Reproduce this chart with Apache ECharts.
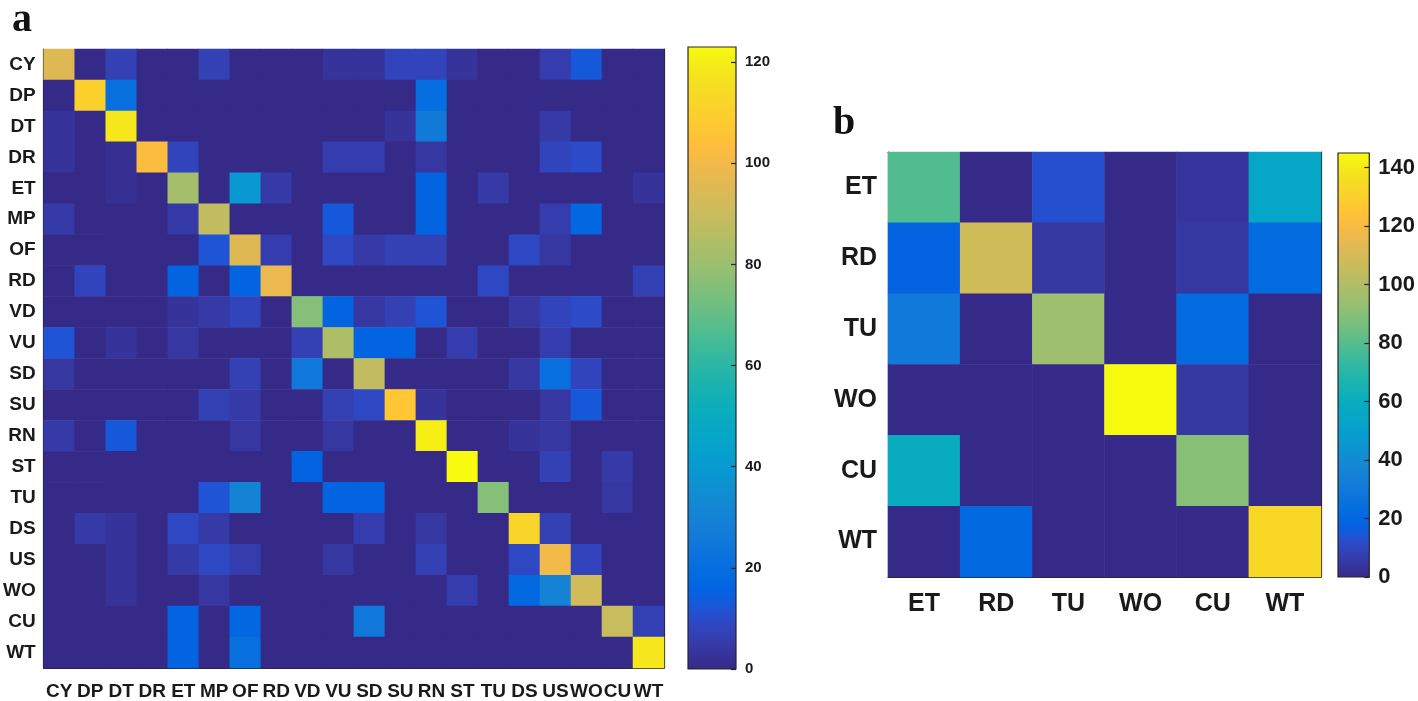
<!DOCTYPE html>
<html>
<head>
<meta charset="utf-8">
<title>Confusion matrices</title>
<script src="https://cdn.jsdelivr.net/npm/echarts@6/dist/echarts.min.js"></script>
<style>
  html, body { margin: 0; padding: 0; background: #fff; }
  #main { width: 1418px; height: 701px; }
</style>
</head>
<body>
<div id="main"></div>
<script>
// ---- data ----
const classesA = ['CY', 'DP', 'DT', 'DR', 'ET', 'MP', 'OF', 'RD', 'VD', 'VU',
                  'SD', 'SU', 'RN', 'ST', 'TU', 'DS', 'US', 'WO', 'CU', 'WT'];
// rows = true class, cols = predicted class (same order as classesA)
const countsA = [
  [95, 0, 7, 0, 0, 7, 0, 0, 0, 3,   3, 8, 8, 3, 0, 0, 6, 13, 0, 0],
  [0, 110, 21, 0, 0, 0, 0, 0, 0, 0, 0, 0, 20, 0, 0, 0, 0, 0, 0, 0],
  [3, 0, 118, 0, 0, 0, 0, 0, 0, 0,  0, 3, 26, 0, 0, 0, 5, 0, 0, 0],
  [3, 0, 2, 103, 8, 0, 0, 0, 0, 6,  6, 0, 4, 0, 0, 0, 8, 10, 0, 0],
  [0, 0, 2, 0, 82, 0, 39, 5, 0, 0,  0, 0, 16, 0, 5, 0, 0, 0, 0, 3],
  [5, 0, 0, 0, 5, 88, 0, 0, 0, 13,  0, 0, 16, 0, 0, 0, 6, 17, 0, 0],
  [0, 0, 0, 0, 0, 12, 95, 6, 0, 9,  5, 7, 7, 0, 0, 9, 4, 0, 0, 0],
  [0, 8, 0, 0, 16, 0, 16, 98, 0, 0, 0, 0, 0, 0, 9, 0, 0, 0, 0, 7],
  [0, 0, 0, 0, 3, 5, 8, 0, 76, 16,  4, 7, 12, 0, 0, 4, 8, 10, 0, 0],
  [12, 0, 3, 0, 4, 0, 0, 0, 7, 84,  16, 16, 0, 6, 0, 0, 6, 0, 0, 0],
  [4, 0, 0, 0, 0, 0, 7, 0, 25, 0,   88, 0, 0, 0, 0, 4, 21, 8, 0, 0],
  [0, 0, 0, 0, 0, 7, 5, 0, 0, 7,    9, 107, 3, 0, 0, 0, 4, 13, 0, 0],
  [5, 0, 13, 0, 0, 0, 4, 0, 0, 4,   0, 0, 120, 0, 0, 3, 4, 0, 0, 0],
  [0, 0, 0, 0, 0, 0, 0, 0, 16, 0,   0, 0, 0, 123, 0, 0, 7, 0, 5, 0],
  [0, 0, 0, 0, 0, 12, 30, 0, 0, 16, 16, 0, 0, 0, 76, 0, 0, 0, 4, 0],
  [0, 5, 3, 0, 9, 5, 0, 0, 0, 0,    6, 0, 4, 0, 0, 112, 7, 0, 0, 0],
  [0, 0, 3, 0, 5, 9, 6, 0, 0, 4,    0, 0, 7, 0, 0, 9, 100, 8, 0, 0],
  [0, 0, 3, 0, 0, 4, 0, 0, 0, 0,    0, 0, 0, 6, 0, 18, 30, 92, 0, 0],
  [0, 0, 0, 0, 16, 0, 17, 0, 0, 0,  25, 0, 0, 0, 0, 0, 0, 0, 90, 7],
  [0, 0, 0, 0, 16, 0, 21, 0, 0, 0,  0, 0, 0, 0, 0, 0, 0, 0, 0, 118]
];
const colorTicksA = [0, 20, 40, 60, 80, 100, 120];
const colorMaxA = 123;

const classesB = ['ET', 'RD', 'TU', 'WO', 'CU', 'WT'];
const countsB = [
  [79, 0, 13, 0, 4, 55],
  [18, 108, 5, 0, 5, 22],
  [30, 0, 95, 0, 22, 0],
  [0, 0, 0, 145, 5, 0],
  [59, 0, 0, 0, 90, 0],
  [0, 21, 0, 0, 0, 133]
];
const colorTicksB = [0, 20, 40, 60, 80, 100, 120, 140];
const colorMaxB = 145;

// MATLAB parula (64 steps)
const parulaRGB = [
  [0.2081,0.1663,0.5292],[0.2116,0.1898,0.5777],[0.2123,0.2138,0.6270],[0.2081,0.2386,0.6771],
  [0.1959,0.2645,0.7279],[0.1707,0.2919,0.7792],[0.1253,0.3242,0.8303],[0.0591,0.3598,0.8683],
  [0.0117,0.3875,0.8820],[0.0060,0.4086,0.8828],[0.0165,0.4266,0.8786],[0.0329,0.4430,0.8720],
  [0.0498,0.4586,0.8641],[0.0629,0.4737,0.8554],[0.0723,0.4887,0.8467],[0.0779,0.5040,0.8384],
  [0.0793,0.5200,0.8312],[0.0749,0.5375,0.8263],[0.0641,0.5570,0.8240],[0.0488,0.5772,0.8228],
  [0.0343,0.5966,0.8199],[0.0265,0.6137,0.8135],[0.0239,0.6287,0.8038],[0.0231,0.6418,0.7913],
  [0.0228,0.6535,0.7768],[0.0267,0.6642,0.7607],[0.0384,0.6743,0.7436],[0.0590,0.6838,0.7254],
  [0.0843,0.6928,0.7062],[0.1133,0.7015,0.6859],[0.1453,0.7098,0.6646],[0.1801,0.7177,0.6424],
  [0.2178,0.7250,0.6193],[0.2586,0.7317,0.5954],[0.3022,0.7376,0.5712],[0.3482,0.7424,0.5473],
  [0.3953,0.7459,0.5244],[0.4420,0.7481,0.5033],[0.4871,0.7491,0.4840],[0.5300,0.7491,0.4661],
  [0.5709,0.7485,0.4494],[0.6099,0.7473,0.4337],[0.6473,0.7456,0.4188],[0.6834,0.7435,0.4044],
  [0.7184,0.7411,0.3905],[0.7525,0.7384,0.3768],[0.7858,0.7356,0.3633],[0.8185,0.7327,0.3498],
  [0.8507,0.7299,0.3360],[0.8824,0.7274,0.3217],[0.9139,0.7258,0.3063],[0.9450,0.7261,0.2886],
  [0.9739,0.7314,0.2666],[0.9938,0.7455,0.2403],[0.9990,0.7653,0.2164],[0.9955,0.7861,0.1967],
  [0.9880,0.8066,0.1794],[0.9789,0.8271,0.1633],[0.9697,0.8481,0.1475],[0.9626,0.8705,0.1309],
  [0.9589,0.8949,0.1132],[0.9598,0.9218,0.0948],[0.9661,0.9514,0.0755],[0.9763,0.9831,0.0538]
];
const parula = parulaRGB.map(c => 'rgb(' + c.map(v => Math.round(v * 255)).join(',') + ')');

// ---- helpers ----
const ink = '#262626';
const font = 'Liberation Sans, Arial, sans-serif';

function toCells(counts) {
  const cells = [];
  counts.forEach((row, r) => row.forEach((v, c) => cells.push([c, r, v])));
  return cells;
}

const barGradient = {
  type: 'linear', x: 0, y: 1, x2: 0, y2: 0,
  colorStops: parula.map((c, i) => ({offset: i / (parula.length - 1), color: c}))
};

function catAxis(gridIndex, data, position, showLabel, fontSize, margin, inverse, tickLen) {
  return {
    type: 'category', gridIndex, data, position, inverse,
    axisLine: {show: true, onZero: false, lineStyle: {color: ink, width: 1.2}},
    axisTick: {show: true, inside: true, alignWithLabel: true, length: tickLen, lineStyle: {color: ink, width: 1.2}},
    axisLabel: {show: showLabel, color: '#1a1a1a', fontFamily: font, fontWeight: 'bold', fontSize, margin, interval: 0},
    splitLine: {show: false}
  };
}

function barXAxis(gridIndex) {
  return {type: 'value', gridIndex, show: false, min: 0, max: 1};
}

function barYAxis(gridIndex, max, ticks, fontSize) {
  return {
    type: 'value', gridIndex, min: 0, max, position: 'right',
    axisLine: {show: false, onZero: false},
    axisTick: {show: true, inside: true, length: 5, customValues: ticks, lineStyle: {color: ink, width: 1.2}},
    axisLabel: {color: '#1a1a1a', fontFamily: font, fontWeight: 'bold', fontSize, margin: 9, customValues: ticks},
    splitLine: {show: false}
  };
}

const chart = echarts.init(document.getElementById('main'));
chart.setOption({
  backgroundColor: '#fff',
  animation: false,
  graphic: [
    {type: 'text', left: 12, top: 1,
     style: {text: 'a', font: 'bold 40px "Liberation Serif", "Times New Roman", serif', fill: '#111'}},
    {type: 'text', left: 833, top: 104,
     style: {text: 'b', font: 'bold 40px "Liberation Serif", "Times New Roman", serif', fill: '#111'}}
  ],
  grid: [
    {left: 42, top: 49, width: 622, height: 621},
    {left: 688, top: 47, width: 48, height: 622, show: true, backgroundColor: barGradient, borderColor: ink, borderWidth: 1.2},
    {left: 888, top: 152, width: 433, height: 425},
    {left: 1338, top: 153, width: 32, height: 424, show: true, backgroundColor: barGradient, borderColor: ink, borderWidth: 1.2}
  ],
  xAxis: [
    catAxis(0, classesA, 'bottom', true, 19, 14, false, 6),
    catAxis(0, classesA, 'top', false, 19, 8, false, 6),
    barXAxis(1),
    catAxis(2, classesB, 'bottom', true, 25, 15, false, 5),
    catAxis(2, classesB, 'top', false, 25, 8, false, 5),
    barXAxis(3)
  ],
  yAxis: [
    catAxis(0, classesA, 'left', true, 19, 8, true, 6),
    catAxis(0, classesA, 'right', false, 19, 8, true, 6),
    barYAxis(1, colorMaxA, colorTicksA, 15),
    catAxis(2, classesB, 'left', true, 25, 11, true, 5),
    catAxis(2, classesB, 'right', false, 25, 8, true, 5),
    barYAxis(3, colorMaxB, colorTicksB, 22)
  ],
  visualMap: [
    {type: 'continuous', show: false, seriesIndex: 0, min: 0, max: colorMaxA, inRange: {color: parula}},
    {type: 'continuous', show: false, seriesIndex: 1, min: 0, max: colorMaxB, inRange: {color: parula}}
  ],
  series: [
    {type: 'heatmap', xAxisIndex: 0, yAxisIndex: 0, data: toCells(countsA), z: 1,
     emphasis: {disabled: true}, itemStyle: {borderWidth: 0}},
    {type: 'heatmap', xAxisIndex: 3, yAxisIndex: 3, data: toCells(countsB), z: 1,
     emphasis: {disabled: true}, itemStyle: {borderWidth: 0}}
  ]
});
</script>
</body>
</html>
